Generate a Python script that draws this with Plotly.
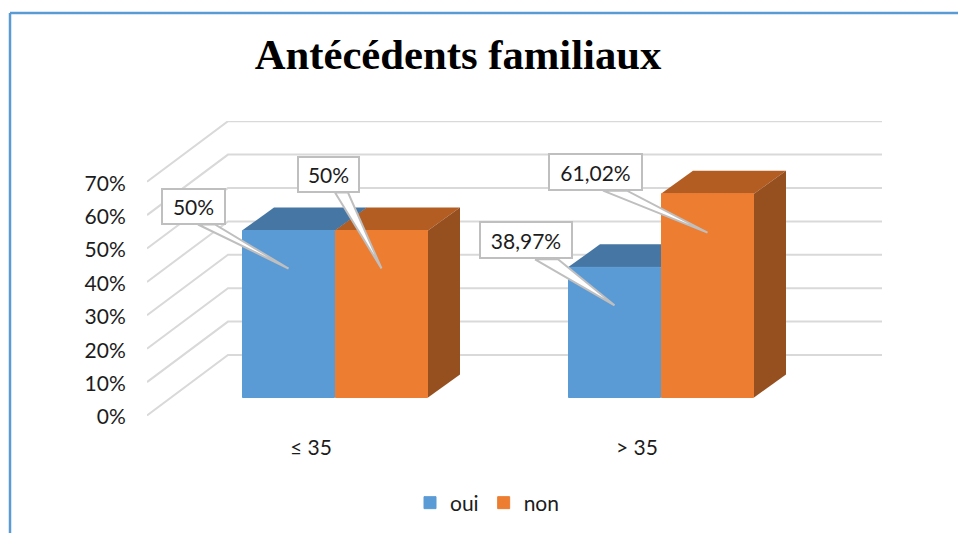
import plotly.graph_objects as go

# ---- data ----
categories = ["≤ 35", "> 35"]
series_names = ["oui", "non"]
oui_values = [50, 38.97]
non_values = [50, 61.02]
oui_labels = ["50%", "38,97%"]
non_labels = ["50%", "61,02%"]
axis_ticks = [0, 10, 20, 30, 40, 50, 60, 70]

# ---- styles / pseudo-3D geometry (pixels) ----
W, H = 958, 533
L, R, T, B = 147, 882, 121, 417
CAT_X0, CAT_STEP = 311, 326
PX_PER_PCT = 3.34
FLOOR_DX, FLOOR_DY = 24, 19.5      # bars stand this far into the depth
WALL_DX, WALL_DY = 81, 62          # back wall offset
DIAG_START = 1.5                   # diagonal starts slightly above the tick label centre
BAR_DX, BAR_DY = 32, 23            # bar depth
BAR_W = 93
FONT = "Lato"
FS = 21
TXT = "#1C1C1C"
GRID = "#D9D9D9"
COL_FRONT = ["#5B9BD5", "#ED7D31"]
COL_TOP = ["#4676A3", "#B35D22"]
COL_SIDE = ["#4676A3", "#964F1F"]


def ux(px):
    return px / CAT_STEP


def uy(px):
    return px / PX_PER_PCT


fig = go.Figure()
shapes = []

# walls: horizontal back grid line plus diagonal floor/side line for every tick
for t in axis_ticks:
    xs = [(L - CAT_X0) / CAT_STEP, (L - CAT_X0 + WALL_DX) / CAT_STEP, (R - CAT_X0) / CAT_STEP]
    ys = [t + uy(DIAG_START), t + uy(WALL_DY), t + uy(WALL_DY)]
    shapes.append(dict(type="path", layer="below", xref="x", yref="y",
                       path=f"M{xs[0]},{ys[0]} L{xs[1]},{ys[1]} L{xs[2]},{ys[2]}",
                       line=dict(color=GRID, width=2)))

series = [oui_values, non_values]
floor = uy(FLOOR_DY)
half = ux(BAR_W)


def bar_left(cat, s):
    return cat + ux(FLOOR_DX) - half + s * half


# depth faces, below the front faces
for s, vals in enumerate(series):
    for c, v in enumerate(vals):
        x0 = bar_left(c, s)
        x1 = x0 + half
        top = floor + v
        dx, dy = ux(BAR_DX), uy(BAR_DY)
        shapes.append(dict(type="path", layer="below", xref="x", yref="y", fillcolor=COL_TOP[s],
                           line=dict(width=0),
                           path=f"M{x0},{top} L{x0+dx},{top+dy} L{x1+dx},{top+dy} L{x1},{top} Z"))
        shapes.append(dict(type="path", layer="below", xref="x", yref="y", fillcolor=COL_SIDE[s],
                           line=dict(width=0),
                           path=f"M{x1},{floor} L{x1+dx},{floor+dy} L{x1+dx},{top+dy} L{x1},{top} Z"))

# front faces
for s, vals in enumerate(series):
    fig.add_trace(go.Bar(
        x=[c + ux(FLOOR_DX) - half / 2 + s * half for c in range(len(vals))],
        y=vals, base=[floor] * len(vals), width=ux(BAR_W - 1), name=series_names[s],
        marker=dict(color=COL_FRONT[s], line=dict(width=1, color=COL_FRONT[s])),
    ))

# callouts: (box centre dx, dy), wedge base x0, x1, y, tip y relative to top-centre of bar
callouts = [
    [(-95, 24.5, 65, 37, -90.5, -73.5, 6, -38), (-88.5, 27, 94, 38, -79.5, -56.5, 8, -38)],
    [(-53, 56.5, 63, 37, -46.5, -33.5, 38, -38), (-112, 22, 95, 38, -104.5, -80.5, 3, -39)],
]
labels = [oui_labels, non_labels]
annotations = []
for s, vals in enumerate(series):
    for c, v in enumerate(vals):
        cx = bar_left(c, s) + half / 2
        top = floor + v
        bx, by, bw, bh, w0, w1, wy, tip = callouts[s][c]
        fig.add_trace(go.Scatter(
            x=[cx + ux(w0), cx, cx + ux(w1), cx + ux(w0)],
            y=[top + uy(wy), top + uy(tip), top + uy(wy), top + uy(wy)],
            mode="lines", fill="toself", fillcolor="white",
            line=dict(color="#BFBFBF", width=2), showlegend=False, hoverinfo="skip"))
        annotations.append(dict(
            x=cx, y=top, xref="x", yref="y", xshift=bx, yshift=by, showarrow=False,
            text=labels[s][c], width=bw - 4, height=bh - 4, bgcolor="white",
            bordercolor="#BFBFBF", borderwidth=2, borderpad=0, align="center", valign="middle",
            font=dict(family=FONT, size=FS, color=TXT)))

# outer frame of the source document
for x0, y0, x1, y1 in [(10, 13, 965, 13), (10, 13, 10, 545)]:
    shapes.append(dict(type="line", xref="paper", yref="paper", layer="above",
                       x0=(x0 - L) / (R - L), x1=(x1 - L) / (R - L),
                       y0=(B - y0) / (B - T), y1=(B - y1) / (B - T),
                       line=dict(color="#5B9BD5", width=2.5)))

fig.update_layout(
    width=W, height=H, autosize=False,
    margin=dict(l=L, r=W - R, t=T, b=H - B),
    paper_bgcolor="white", plot_bgcolor="rgba(0,0,0,0)",
    barmode="overlay",
    title=dict(text="<b>Antécédents familiaux</b>", x=458 / W, xanchor="center", xref="container",
               y=1 - 54 / H, yanchor="middle",
               font=dict(family="Liberation Serif", size=42.7, color="black")),
    xaxis=dict(range=[(L - CAT_X0) / CAT_STEP, (R - CAT_X0) / CAT_STEP], tickmode="array",
               tickvals=list(range(len(categories))), ticktext=categories, showgrid=False, zeroline=False,
               showline=False, ticks="outside", ticklen=12, tickcolor="rgba(0,0,0,0)",
               tickfont=dict(family=FONT, size=FS, color=TXT)),
    yaxis=dict(range=[0, (B - T) / PX_PER_PCT], tickmode="array", tickvals=axis_ticks,
               ticktext=[f"{t}%" for t in axis_ticks], showgrid=False, zeroline=False, showline=False,
               ticks="outside", ticklen=16, tickcolor="rgba(0,0,0,0)",
               tickfont=dict(family=FONT, size=FS, color=TXT)),
    legend=dict(orientation="h", xanchor="center", yanchor="middle", xref="container", yref="container",
                x=487 / W, y=1 - 503 / H, font=dict(family=FONT, size=FS, color=TXT),
                bgcolor="rgba(0,0,0,0)"),
    shapes=shapes,
    annotations=annotations,
)

fig.write_html("out.html", config={"displayModeBar": False},
               post_script="document.body.style.margin='0';document.body.style.overflow='hidden';")
